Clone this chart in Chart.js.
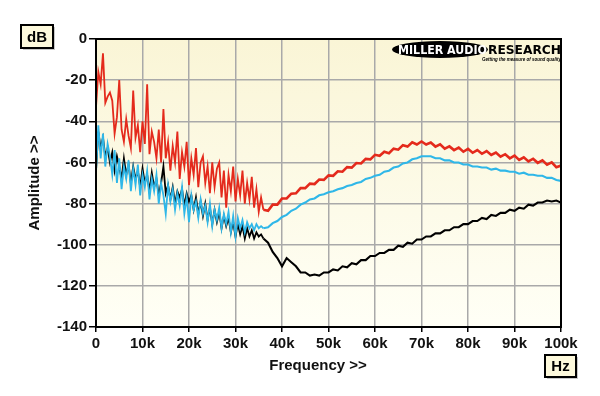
<!DOCTYPE html>
<html><head><meta charset="utf-8">
<script src="https://cdn.jsdelivr.net/npm/chart.js@4/dist/chart.umd.min.js"></script>
<style>html,body{margin:0;padding:0;background:#fff;}#wrap{width:600px;height:396px;}</style>
</head><body><div id="wrap"><canvas id="c" width="600" height="396"></canvas></div>
<script>
// Frequency points (kHz): 0..36 step 0.5, then 37..100 step 1
const freqLowKHz = [0,0.5,1,1.5,2,2.5,3,3.5,4,4.5,5,5.5,6,6.5,7,7.5,8,8.5,9,9.5,10,10.5,11,11.5,12,12.5,13,13.5,14,14.5,15,15.5,16,16.5,17,17.5,18,18.5,19,19.5,20,20.5,21,21.5,22,22.5,23,23.5,24,24.5,25,25.5,26,26.5,27,27.5,28,28.5,29,29.5,30,30.5,31,31.5,32,32.5,33,33.5,34,34.5,35,35.5,36];
const freqHighKHz = [37,38,39,40,41,42,43,44,45,46,47,48,49,50,51,52,53,54,55,56,57,58,59,60,61,62,63,64,65,66,67,68,69,70,71,72,73,74,75,76,77,78,79,80,81,82,83,84,85,86,87,88,89,90,91,92,93,94,95,96,97,98,99,100];

const redLow = [-33,-16,-22,-7,-31,-28,-26,-30,-46,-38,-20,-44,-50,-39,-47,-53,-25,-48,-42,-55,-40,-51,-22,-56,-45,-50,-58,-44,-60,-34,-58,-50,-64,-52,-60,-45,-68,-55,-62,-50,-71,-58,-66,-53,-72,-60,-57,-70,-62,-75,-60,-72,-63,-60,-77,-64,-82,-66,-74,-62,-79,-68,-76,-64,-80,-70,-78,-67,-82,-73,-84,-77,-83];
const redHigh = [-83.5,-80.5,-80.5,-77.5,-77.5,-75.2,-75,-72.5,-72.5,-70.3,-70.5,-68.3,-68.5,-66.3,-66.5,-64.3,-64.5,-62.3,-62.5,-60.3,-60.5,-58.3,-58.5,-56.3,-56.8,-54.8,-55.5,-53.3,-53.8,-51.6,-52.3,-50.2,-51.3,-49.8,-51.3,-50.3,-52.3,-51.2,-53.3,-52.2,-54,-52.8,-54.8,-53.4,-55.3,-54,-55.8,-54.5,-56.4,-55.2,-57.2,-56,-58,-56.7,-58.8,-57.5,-59.5,-58.2,-60.2,-59,-61.1,-60,-62.3,-61.5];

const cyanLow = [-65,-42,-58,-46,-62,-51,-57,-66,-54,-70,-58,-73,-62,-68,-59,-74,-63,-71,-61,-76,-66,-72,-64,-78,-68,-74,-66,-80,-70,-76,-85,-71,-79,-73,-83,-75,-81,-72,-85,-77,-89,-76,-83,-79,-87,-78,-85,-81,-89,-80,-91,-83,-88,-82,-92,-85,-90,-84,-94,-86,-96,-87,-92,-88,-94,-89,-92,-90,-93,-90,-92,-91,-92];
const cyanHigh = [-91.5,-89.5,-88.5,-86.5,-85.5,-83.5,-82.5,-80.5,-79.5,-78,-77.5,-76,-75.5,-74.5,-74,-73,-72.5,-71.5,-71,-70,-69.5,-68,-67.5,-66.5,-66,-64.5,-64,-62.5,-62,-60.5,-60,-58.5,-58,-57,-57,-57,-58,-58,-59,-59,-60,-60,-61,-61,-62,-62,-62.5,-62.5,-63.5,-63,-64,-64,-64.5,-64.5,-65.5,-65,-66,-66,-66.5,-66.5,-67.5,-67.5,-68.5,-69];

const blackLow = [-64,-45,-53,-48,-57,-53,-60,-55,-64,-57,-62,-68,-58,-66,-61,-70,-62,-68,-64,-72,-63,-70,-66,-74,-65,-72,-68,-76,-70,-62,-75,-71,-78,-72,-80,-74,-77,-73,-81,-75,-79,-76,-83,-77,-85,-79,-86,-80,-88,-82,-90,-83,-89,-84,-92,-86,-91,-87,-94,-89,-96,-90,-95,-91,-97,-92,-96,-93,-97,-94,-96,-95,-97];
const blackHigh = [-99,-103.5,-106.5,-110.5,-106.5,-108.5,-110.5,-113.5,-113.5,-115,-114.5,-115,-113.5,-113.5,-112,-112.5,-110.5,-111,-109,-109.5,-107.5,-107.5,-105.5,-105.5,-104,-104,-102.5,-102.5,-100.5,-101,-99,-99.5,-97.5,-97.5,-96,-96,-94.5,-94.5,-93,-93,-91.5,-91.5,-90,-90,-88.5,-88.5,-87,-87.5,-85.5,-86,-84.5,-84.5,-83,-83.5,-82,-82.5,-80.5,-81,-79.5,-79.5,-78.5,-79,-78.5,-79.5];

const yTicks = [0,-20,-40,-60,-80,-100,-120,-140];
const xTickLabels = ['0','10k','20k','30k','40k','50k','60k','70k','80k','90k','100k'];

const freqHz = freqLowKHz.concat(freqHighKHz).map(k => k * 1000);
function pts(lo, hi){ const v = lo.concat(hi); return freqHz.map((f,i)=>({x:f,y:v[i]})); }
function widthBy(lowW, highW){ return {borderWidth: c => (c.p0.parsed.x >= 36000 ? highW : lowW)}; }

const FONT = "'Liberation Sans', Arial, sans-serif";

const decor = {
  id:'decor',
  beforeDraw(chart){
    const {ctx, chartArea:a} = chart;
    const g = ctx.createLinearGradient(0,a.top,0,a.bottom);
    g.addColorStop(0,'#faf5d6');
    g.addColorStop(1,'#fffff6');
    ctx.save(); ctx.fillStyle = g; ctx.fillRect(a.left,a.top,a.right-a.left,a.bottom-a.top); ctx.restore();
  },
  afterDraw(chart){
    const {ctx, chartArea:a} = chart;
    ctx.save();
    ctx.strokeStyle = '#000'; ctx.lineWidth = 2;
    ctx.strokeRect(a.left, a.top, a.right-a.left, a.bottom-a.top);
    function box(x,y,w,h,t){
      ctx.fillStyle='#c8c8c8'; ctx.fillRect(x+2,y+2,w,h);
      ctx.fillStyle='#fdf9dc'; ctx.fillRect(x,y,w,h);
      ctx.strokeStyle='#000'; ctx.lineWidth=2; ctx.strokeRect(x,y,w,h);
      ctx.fillStyle='#000'; ctx.font='bold 15px '+FONT; ctx.textAlign='center'; ctx.textBaseline='middle';
      ctx.fillText(t, x+w/2, y+h/2+1);
    }
    box(21,25,32,23,'dB');
    box(545,355,31,22,'Hz');
    ctx.fillStyle='#111'; ctx.font='bold 15px '+FONT; ctx.textAlign='center'; ctx.textBaseline='middle';
    ctx.fillText('Frequency >>', 318, 366);
    ctx.save(); ctx.translate(35,183); ctx.rotate(-Math.PI/2); ctx.fillText('Amplitude >>',0,0); ctx.restore();
    // logo
    ctx.fillStyle='#000';
    ctx.beginPath(); ctx.ellipse(440,49.5,48,8.5,0,0,Math.PI*2); ctx.fill();
    ctx.fillStyle='#fff'; ctx.font='bold 12px "DejaVu Sans", sans-serif'; ctx.textAlign='left'; ctx.textBaseline='middle';
    ctx.fillText('MILLER AUDIO', 398, 50.5, 89);
    ctx.fillStyle='#000'; ctx.font='bold 12.5px "DejaVu Sans", sans-serif';
    ctx.fillText('RESEARCH', 488, 50.5, 73);
    ctx.font='italic bold 5px '+FONT; ctx.textAlign='right';
    ctx.fillText('Getting the measure of sound quality', 561, 59.5, 79);
    ctx.restore();
  }
};

new Chart(document.getElementById('c'), {
  type:'line',
  data:{ datasets:[
    {label:'Red', data:pts(redLow,redHigh), borderColor:'#e42a1c', borderWidth:1.8, segment:widthBy(1.8,2.6), pointRadius:0, tension:0, order:1},
    {label:'Cyan', data:pts(cyanLow,cyanHigh), borderColor:'#2fb7e8', borderWidth:1.8, segment:widthBy(1.8,2.1), pointRadius:0, tension:0, order:2},
    {label:'Black', data:pts(blackLow,blackHigh), borderColor:'#000', borderWidth:1.8, segment:widthBy(1.8,2.1), pointRadius:0, tension:0, order:3}
  ]},
  options:{
    responsive:false, animation:false, devicePixelRatio:1,
    layout:{padding:{left:0,right:39,top:39,bottom:0}},
    plugins:{legend:{display:false}, tooltip:{enabled:false}},
    scales:{
      x:{type:'linear', min:0, max:100000,
        afterBuildTicks(s){ s.ticks = xTickLabels.map((_,i)=>({value:i*10000})); },
        afterFit(s){ s.height = 69; },
        ticks:{ callback:(v,i)=>xTickLabels[i], color:'#111', font:{family:FONT, size:15, weight:'bold'}, padding:3, maxRotation:0, autoSkip:false },
        grid:{ color:'#a9a9a9', lineWidth:1.5, tickLength:5, tickColor:'#000' },
        border:{display:false}
      },
      y:{type:'linear', min:-140, max:0,
        afterBuildTicks(s){ s.ticks = yTicks.map(v=>({value:v})); },
        afterFit(s){ s.width = 96; },
        ticks:{ color:'#111', font:{family:FONT, size:15, weight:'bold'}, padding:2 },
        grid:{ color:'#a9a9a9', lineWidth:1.5, tickLength:7, tickColor:'#000' },
        border:{display:false}
      }
    }
  },
  plugins:[decor]
});
</script></body></html>
